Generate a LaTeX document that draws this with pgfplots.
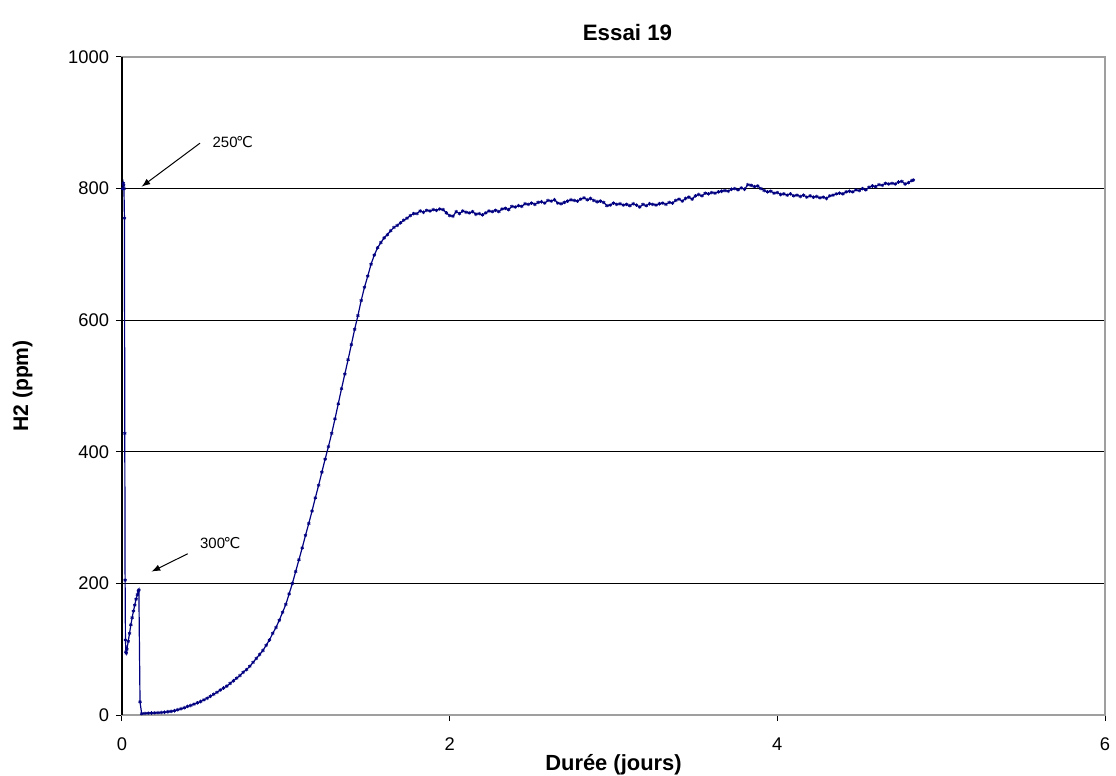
\documentclass[border=0pt]{standalone}
\usepackage{pgfplots}
\pgfplotsset{compat=1.18}
\usepackage{fontspec}
\setmainfont{Liberation Sans}
\newfontfamily\dejavu{DejaVu Sans}
\definecolor{navyline}{RGB}{0,0,128}
\begin{document}
\begin{tikzpicture}
\path[use as bounding box] (-61bp,-30.5bp) rectangle (497bp,357.5bp);
\begin{axis}[
  at={(0,0)}, anchor=south west,
  scale only axis, width=491.5bp, height=329bp,
  xmin=0, xmax=6, ymin=0, ymax=1000,
  xtick={0,2,4,6}, ytick={0,200,400,600,800,1000},
  ymajorgrids, grid style={black, line width=0.5pt},
  axis line style={gray!75, line width=0.6pt},
  tick align=outside, major tick length=3bp,
  tick style={black, line width=0.5pt},
  xtick pos=bottom, ytick pos=left,
  /pgf/number format/assume math mode=true,
  /pgf/number format/1000 sep={},
  ticklabel style={font=\fontsize{9.2}{10}\selectfont},
  xticklabel style={yshift=-5bp},
  title={\textbf{Essai 19}}, title style={font=\fontsize{11.2}{13}\selectfont, yshift=-1.5bp, xshift=7bp},
  xlabel={\textbf{Durée (jours)}}, ylabel={\textbf{H2 (ppm)}},
  xlabel style={font=\fontsize{11}{12}\selectfont, yshift=5bp},
  ylabel style={font=\fontsize{10.6}{12}\selectfont, yshift=11bp},
  clip=false,
]
\addplot[navyline, line width=0.6pt, mark=asterisk, mark size=0.9pt, mark options={line width=0.4pt}] coordinates {
(0.004,800) (0.008,808) (0.010,805) (0.012,800) (0.015,755) (0.017,428) (0.019,205) (0.021,114)
(0.024,96) (0.026,94) (0.030,100) (0.038,112) (0.046,124) (0.054,137) (0.062,148) (0.070,158)
(0.078,167) (0.086,176) (0.094,183) (0.100,188) (0.103,190) (0.110,20) (0.120,2)
(0.14,2.5) (0.16,2.8) (0.18,3) (0.20,3.2) (0.22,3.5) (0.24,3.8) (0.26,4.2) (0.28,5) (0.30,5.5)
(0.32,6.5) (0.34,8) (0.36,9.5) (0.38,11) (0.40,13) (0.42,14.5) (0.44,16.5) (0.46,18.5) (0.48,20.5)
(0.50,23) (0.52,25.5) (0.54,28.5) (0.56,31.5) (0.58,34.5) (0.60,38) (0.62,41) (0.64,44) (0.66,48)
(0.68,52) (0.70,56) (0.72,60) (0.74,65) (0.76,69) (0.78,74) (0.80,80) (0.82,86) (0.84,92) (0.86,98)
(0.88,106) (0.90,114) (0.92,124) (0.94,133) (0.96,144) (0.98,156) (1.00,168) (1.02,184) (1.04,200)
(1.06,218) (1.08,236) (1.10,254) (1.12,273) (1.14,291) (1.16,310) (1.18,330) (1.20,349) (1.22,369)
(1.24,389) (1.26,408) (1.28,428) (1.30,450) (1.32,473) (1.34,496) (1.36,518) (1.38,540) (1.40,563)
(1.42,586) (1.44,607) (1.46,630) (1.48,650) (1.50,667) (1.52,685) (1.54,699) (1.56,710) (1.58,718)
(1.60,725) (1.62,730) (1.64,736) (1.66,741) (1.68,744) (1.70,748) (1.72,752) (1.74,755) (1.76,759)
(1.78,762) (1.80,762) (1.82,766) (1.84,764) (1.86,767) (1.88,766) (1.90,768) (1.92,767) (1.94,769)
(1.96,768) (1.98,763) (2.00,759) (2.02,758) (2.04,765) (2.06,762) (2.08,766) (2.10,764) (2.12,763)
(2.14,765) (2.16,761) (2.18,762) (2.20,760) (2.22,763) (2.24,766) (2.26,765) (2.28,767) (2.30,765)
(2.32,769) (2.34,770) (2.36,768) (2.38,773) (2.40,772) (2.42,774) (2.44,773) (2.46,777) (2.48,776)
(2.50,778) (2.52,776) (2.54,779) (2.56,780) (2.58,778) (2.60,782) (2.62,781) (2.64,783) (2.66,778)
(2.68,777) (2.70,779) (2.72,781) (2.74,783) (2.76,782) (2.78,781) (2.80,784) (2.82,786) (2.84,783)
(2.86,785) (2.88,782) (2.90,780) (2.92,781) (2.94,779) (2.96,774) (2.98,775) (3.00,778) (3.02,776)
(3.04,777) (3.06,775) (3.08,776) (3.10,774) (3.12,777) (3.14,775) (3.16,772) (3.18,776) (3.20,774)
(3.22,777) (3.24,776) (3.26,775) (3.28,777) (3.30,778) (3.32,776) (3.34,779) (3.36,778) (3.38,782)
(3.40,784) (3.42,781) (3.44,785) (3.46,787) (3.48,784) (3.50,789) (3.52,791) (3.54,789) (3.56,793)
(3.58,792) (3.60,794) (3.62,793) (3.64,795) (3.66,796) (3.68,797) (3.70,796) (3.72,799) (3.74,800)
(3.76,798) (3.78,801) (3.80,799) (3.82,806) (3.84,805) (3.86,803) (3.88,804) (3.90,800) (3.92,797)
(3.94,795) (3.96,796) (3.98,793) (4.00,794) (4.02,791) (4.04,792) (4.06,790) (4.08,792) (4.10,789)
(4.12,790) (4.14,788) (4.16,790) (4.18,787) (4.20,789) (4.22,787) (4.24,788) (4.26,786) (4.28,787)
(4.30,785) (4.32,789) (4.34,790) (4.36,792) (4.38,793) (4.40,792) (4.42,795) (4.44,796) (4.46,795)
(4.48,798) (4.50,797) (4.52,800) (4.54,798) (4.56,802) (4.58,804) (4.60,803) (4.62,806) (4.64,805)
(4.66,808) (4.68,807) (4.70,808) (4.72,807) (4.74,810) (4.76,811) (4.78,807) (4.80,809) (4.82,812)
(4.83,813)
};
\draw[black, line width=0.6pt] (axis cs:0,0) -- (axis cs:0,1000);
\draw[black, line width=0.5pt, -latex] (axis cs:0.476,869) -- (axis cs:0.12,803);
\draw[black, line width=0.5pt, -latex] (axis cs:0.401,245) -- (axis cs:0.181,218);
\node[font=\fontsize{7.5}{9}\selectfont, inner sep=0pt] at (axis cs:0.676,871) {250{\dejavu\kern-0.1em ℃}};
\node[font=\fontsize{7.5}{9}\selectfont, inner sep=0pt] at (axis cs:0.60,261) {300{\dejavu\kern-0.1em ℃}};
\end{axis}
\end{tikzpicture}
\end{document}
